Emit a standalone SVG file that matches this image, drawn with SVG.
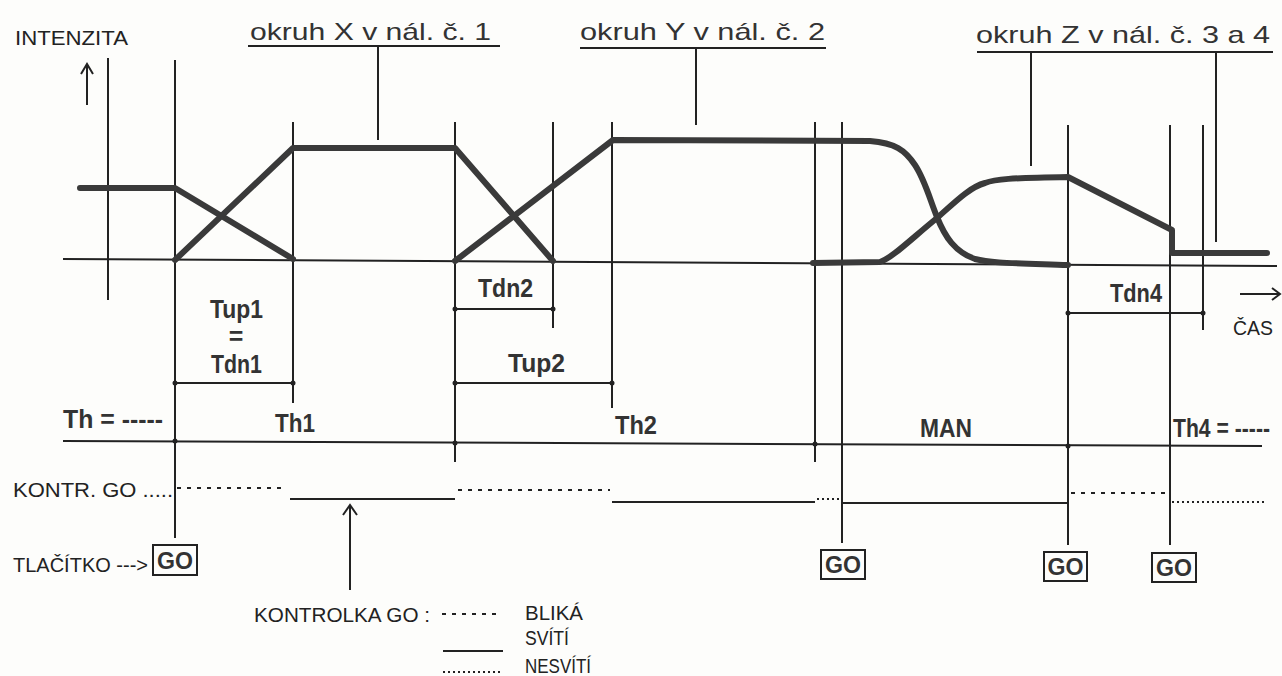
<svg xmlns="http://www.w3.org/2000/svg" width="1282" height="676" viewBox="0 0 1282 676">
<style>
.bg{fill:#fdfdfb}
.thin{stroke:#222;stroke-width:2;fill:none}
.thick{stroke:#3a3a3a;stroke-width:6;fill:none;stroke-linejoin:round;stroke-linecap:round}
.dash{stroke:#222;stroke-width:2;fill:none;stroke-dasharray:4 6}
.dot{stroke:#222;stroke-width:2;fill:none;stroke-dasharray:2 3}
.pt{fill:#222}
.t{font-family:"Liberation Sans",Arial,sans-serif;fill:#222}
.reg{font-size:21px}
.title{font-size:24px;fill:#333}
.b{font-weight:bold;font-size:25px;fill:#333}
.go{font-family:"Liberation Sans",Arial,sans-serif;font-weight:bold;font-size:23px;fill:#333}
.box{fill:none;stroke:#222;stroke-width:2}
</style>
<rect class="bg" x="0" y="0" width="1282" height="676"/>

<g id="connectors">
  <line class="thin" x1="108" y1="58" x2="108" y2="300"/>
  <line class="thin" x1="175" y1="60" x2="175" y2="538"/>
  <line class="thin" x1="293" y1="122" x2="293" y2="403"/>
  <line class="thin" x1="455" y1="122" x2="455" y2="462"/>
  <line class="thin" x1="553" y1="122" x2="553" y2="328"/>
  <line class="thin" x1="612" y1="122" x2="612" y2="408"/>
  <line class="thin" x1="815" y1="122" x2="815" y2="462"/>
  <line class="thin" x1="842" y1="122" x2="842" y2="543"/>
  <line class="thin" x1="1068" y1="125" x2="1068" y2="545"/>
  <line class="thin" x1="1170" y1="125" x2="1170" y2="545"/>
  <line class="thin" x1="1203" y1="125" x2="1203" y2="330"/>
  <line class="thin" x1="248" y1="46" x2="500" y2="46"/>
  <line class="thin" x1="378" y1="46" x2="378" y2="140"/>
  <line class="thin" x1="580" y1="48" x2="826" y2="48"/>
  <line class="thin" x1="696" y1="48" x2="696" y2="125"/>
  <line class="thin" x1="977" y1="52" x2="1273" y2="52"/>
  <line class="thin" x1="1031" y1="52" x2="1031" y2="166"/>
  <line class="thin" x1="1216" y1="52" x2="1216" y2="242"/>
  <path class="thin" d="M87,105 L87,64 M81,74 L87,64 L93,74"/>
  <path class="thin" d="M1240,294 L1280,294 M1272,288 L1280,294 L1272,300"/>
  <line class="thin" x1="63" y1="259" x2="1277" y2="266"/>
  <path class="thick" d="M80,188 L175,188 L293,259"/>
  <path class="thick" d="M175,260 L293,148 L455,148 L553,261"/>
  <path class="thick" d="M455,261 L613,140 L870,141 C895,143 905,150 915,165 C925,180 930,200 937,217 C945,237 955,252 975,259 C990,263 1010,263 1068,265"/>
  <path class="thick" d="M813,263 L880,262 C892,258 910,240 937,218 C955,202 970,187 985,183 C995,179 1010,178 1068,177 L1172,230 L1172,253 L1267,253"/>
  <line class="thin" x1="175" y1="383" x2="293" y2="383"/>
  <line class="thin" x1="455" y1="309" x2="553" y2="309"/>
  <line class="thin" x1="455" y1="383" x2="612" y2="383"/>
  <line class="thin" x1="1068" y1="313" x2="1203" y2="313"/>
  <line class="thin" x1="63" y1="441" x2="1262" y2="446"/>
  <circle class="pt" cx="175" cy="383" r="2.5"/><circle class="pt" cx="293" cy="383" r="2.5"/>
  <circle class="pt" cx="455" cy="309" r="2.5"/><circle class="pt" cx="553" cy="309" r="2.5"/>
  <circle class="pt" cx="455" cy="383" r="2.5"/><circle class="pt" cx="612" cy="383" r="2.5"/>
  <circle class="pt" cx="1068" cy="313" r="2.5"/><circle class="pt" cx="1203" cy="313" r="2.5"/>
  <circle class="pt" cx="175" cy="441" r="2.5"/><circle class="pt" cx="455" cy="443" r="2.5"/>
  <circle class="pt" cx="815" cy="444" r="2.5"/><circle class="pt" cx="1068" cy="446" r="2.5"/>
  <line class="dash" x1="177" y1="488" x2="287" y2="488"/>
  <line class="thin" x1="290" y1="499" x2="455" y2="499"/>
  <line class="dash" x1="458" y1="490" x2="610" y2="490"/>
  <line class="thin" x1="612" y1="502" x2="815" y2="502"/>
  <line class="dot" x1="817" y1="499" x2="840" y2="499"/>
  <line class="thin" x1="842" y1="503" x2="1068" y2="503"/>
  <line class="dash" x1="1071" y1="493" x2="1168" y2="493"/>
  <line class="dot" x1="1172" y1="502" x2="1265" y2="502"/>
  <path class="thin" d="M350,590 L350,505 M343,515 L350,505 L357,515"/>
  <line class="dash" x1="442" y1="614" x2="502" y2="614"/>
  <line class="thin" x1="443" y1="651" x2="503" y2="651"/>
  <line class="dot" x1="443" y1="672" x2="503" y2="672"/>
</g>

<g id="label-intenzita"><text class="t reg" x="15" y="45" font-size="22" textLength="113" lengthAdjust="spacingAndGlyphs">INTENZITA</text></g>
<g id="title-x"><text class="t title" x="250" y="40" textLength="241" lengthAdjust="spacingAndGlyphs">okruh X v nál. č. 1</text></g>
<g id="title-y"><text class="t title" x="580" y="40" textLength="245" lengthAdjust="spacingAndGlyphs">okruh Y v nál. č. 2</text></g>
<g id="title-z"><text class="t title" x="976" y="43" textLength="294" lengthAdjust="spacingAndGlyphs">okruh Z v nál. č. 3 a 4</text></g>
<g id="label-cas"><text class="t reg" x="1233" y="335" textLength="40" lengthAdjust="spacingAndGlyphs">ČAS</text></g>

<g id="label-tup1">
  <text class="t b" x="210" y="318" textLength="53" lengthAdjust="spacingAndGlyphs">Tup1</text>
  <text class="t b" x="236" y="345" text-anchor="middle" font-size="18">=</text>
  <text class="t b" x="211" y="373" textLength="51" lengthAdjust="spacingAndGlyphs">Tdn1</text>
</g>
<g id="label-tdn2"><text class="t b" x="478" y="297" textLength="55" lengthAdjust="spacingAndGlyphs">Tdn2</text></g>
<g id="label-tup2"><text class="t b" x="508" y="372" textLength="57" lengthAdjust="spacingAndGlyphs">Tup2</text></g>
<g id="label-tdn4"><text class="t b" x="1110" y="302" textLength="52" lengthAdjust="spacingAndGlyphs">Tdn4</text></g>
<g id="label-th"><text class="t b" x="63" y="428" textLength="100" lengthAdjust="spacingAndGlyphs">Th = -----</text></g>
<g id="label-th1"><text class="t b" x="275" y="432" textLength="40" lengthAdjust="spacingAndGlyphs">Th1</text></g>
<g id="label-th2"><text class="t b" x="615" y="434" textLength="42" lengthAdjust="spacingAndGlyphs">Th2</text></g>
<g id="label-man"><text class="t b" x="920" y="437" textLength="52" lengthAdjust="spacingAndGlyphs">MAN</text></g>
<g id="label-th4"><text class="t b" x="1270" y="437" font-size="22" text-anchor="end" textLength="97" lengthAdjust="spacingAndGlyphs">Th4 = -----</text></g>

<g id="label-kontr"><text class="t reg" x="13" y="497" font-size="19" textLength="160" lengthAdjust="spacingAndGlyphs">KONTR. GO .....</text></g>
<g id="label-tlacitko"><text class="t reg" x="13" y="572" font-size="19" textLength="135" lengthAdjust="spacingAndGlyphs">TLAČÍTKO ---&gt;</text></g>

<g id="go-1"><rect class="box" x="153" y="545" width="44" height="30"/><text class="go" x="175" y="569" text-anchor="middle" textLength="36" lengthAdjust="spacingAndGlyphs">GO</text></g>
<g id="go-2"><rect class="box" x="821" y="550" width="44" height="29"/><text class="go" x="843" y="573" text-anchor="middle" textLength="36" lengthAdjust="spacingAndGlyphs">GO</text></g>
<g id="go-3"><rect class="box" x="1044" y="552" width="43" height="29"/><text class="go" x="1065.5" y="575" text-anchor="middle" textLength="36" lengthAdjust="spacingAndGlyphs">GO</text></g>
<g id="go-4"><rect class="box" x="1152" y="553" width="44" height="29"/><text class="go" x="1174" y="576" text-anchor="middle" textLength="36" lengthAdjust="spacingAndGlyphs">GO</text></g>

<g id="legend">
  <text class="t reg" x="254" y="622" textLength="176" lengthAdjust="spacingAndGlyphs">KONTROLKA GO :</text>
  <text class="t reg" x="525" y="620" textLength="58" lengthAdjust="spacingAndGlyphs">BLIKÁ</text>
  <text class="t reg" x="525" y="645" textLength="44" lengthAdjust="spacingAndGlyphs">SVÍTÍ</text>
  <text class="t reg" x="525" y="673" textLength="66" lengthAdjust="spacingAndGlyphs">NESVÍTÍ</text>
</g>
</svg>
